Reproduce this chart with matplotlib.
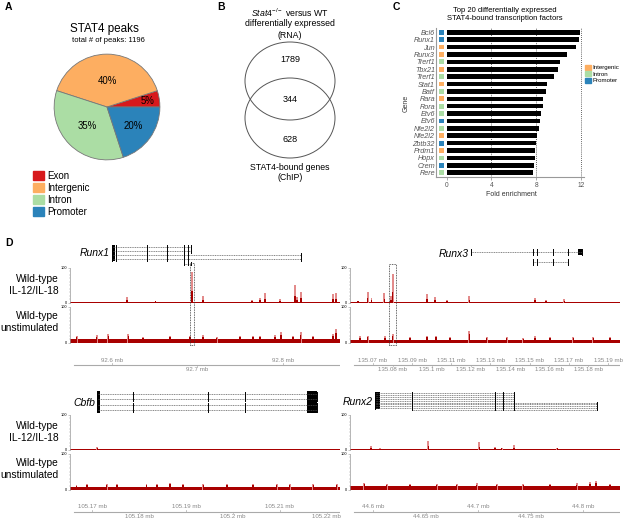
import numpy as np
import matplotlib
matplotlib.use('Agg')
import matplotlib.pyplot as plt
from matplotlib.patches import Ellipse, Rectangle, Patch
from matplotlib import transforms

plt.rcParams['font.family'] = ['Liberation Sans', 'DejaVu Sans']
plt.rcParams['mathtext.fontset'] = 'custom'
plt.rcParams['mathtext.it'] = 'Liberation Sans:italic'
plt.rcParams['mathtext.rm'] = 'Liberation Sans'

# ---- data ----
# A: STAT4 peak annotation
peak_cats = ['Exon', 'Intergenic', 'Intron', 'Promoter']
peak_pct = [5, 40, 35, 20]
region_colors = {'Exon': '#d7191c', 'Intergenic': '#fdae61',
                 'Intron': '#abdda4', 'Promoter': '#2b83ba'}

# B: venn counts
venn_rna_only = 1789
venn_both = 344
venn_chip_only = 628

# C: top 20 transcription factors
tf_genes = ['Bcl6', 'Runx1', 'Jun', 'Runx3', 'Trerf1', 'Tbx21', 'Trerf1', 'Stat1',
            'Batf', 'Rara', 'Rora', 'Etv6', 'Etv6', 'Nfe2l2', 'Nfe2l2', 'Zbtb32',
            'Prdm1', 'Hopx', 'Crem', 'Rere']
tf_fold = [11.9, 11.8, 11.6, 10.75, 10.1, 9.97, 9.55, 9.0, 8.9, 8.65, 8.6, 8.47,
           8.3, 8.23, 8.08, 7.96, 7.93, 7.9, 7.8, 7.72]
tf_region = ['Promoter', 'Promoter', 'Intergenic', 'Intergenic', 'Intron', 'Intergenic',
             'Intron', 'Intergenic', 'Intron', 'Intergenic', 'Intron', 'Intron',
             'Promoter', 'Intron', 'Intergenic', 'Promoter', 'Intergenic', 'Intron',
             'Promoter', 'Intron']

# D: genome tracks (positions in mb, heights on 0-100 scale)
runx1_tx = [(92.5996, 92.6924), (92.5996, 92.6924), (92.5996, 92.8207),
            (92.5996, 92.8207), (92.6842, 92.6924)]
runx1_exons = [92.6047, 92.6406, 92.6647, 92.6842, 92.6885]
runx1_il12 = [(92.6175, 16), (92.651, 5), (92.6936, 88), (92.7064, 18), (92.7637, 6),
              (92.773, 12), (92.779, 28), (92.7965, 10), (92.814, 50), (92.8164, 15),
              (92.821, 30), (92.8585, 25), (92.862, 28)]
runx1_unst = [(92.5587, 20), (92.5821, 22), (92.5957, 24), (92.6191, 25), (92.6363, 17),
              (92.6678, 18), (92.6912, 20), (92.7064, 22), (92.7225, 17), (92.7497, 18),
              (92.7649, 20), (92.7731, 18), (92.7906, 22), (92.7977, 30), (92.8117, 18),
              (92.8207, 30), (92.8351, 18), (92.8585, 25), (92.862, 39)]

runx3_tx = [(135.1200, 135.1767), (135.1516, 135.1697)]
runx3_exons = [135.1516, 135.1539, 135.1621, 135.1697]
runx3_il12 = [(135.0623, 5), (135.0673, 29), (135.0693, 13), (135.0758, 26),
              (135.0792, 19), (135.0801, 81), (135.0977, 23), (135.1017, 16),
              (135.1079, 6), (135.1192, 19), (135.1527, 13), (135.1584, 8), (135.1677, 11)]
runx3_unst = [(135.0634, 18), (135.0673, 20), (135.0761, 18), (135.0801, 25),
              (135.0889, 15), (135.0977, 20), (135.1022, 20), (135.1093, 15),
              (135.1192, 33), (135.1281, 15), (135.1383, 15), (135.1468, 14),
              (135.1527, 18), (135.1604, 15), (135.1723, 15), (135.1825, 17), (135.191, 15)]

cbfb_tx = [(105.1711, 105.2178)] * 4
cbfb_exons = [105.1788, 105.1946, 105.2026]
cbfb_il12 = [(105.1711, 8)]
cbfb_unst = [(105.1667, 13), (105.1689, 14), (105.1731, 16), (105.1753, 15),
             (105.1816, 14), (105.1838, 14), (105.1866, 19), (105.1894, 16),
             (105.1937, 15), (105.1987, 14), (105.2043, 15), (105.2093, 15),
             (105.2121, 14), (105.2171, 14), (105.2221, 15)]

runx2_tx = [(44.6019, 44.7343)] * 5 + [(44.6019, 44.8136)] * 4 + [(44.6369, 44.8136)]
runx2_exons = [44.6369, 44.7162, 44.7235, 44.7343]
runx2_il12 = [(44.5981, 12), (44.6067, 5), (44.6527, 26), (44.7012, 21), (44.7162, 7),
              (44.7226, 6), (44.7343, 13), (44.7755, 6)]
runx2_unst = [(44.5917, 18), (44.613, 15), (44.6352, 14), (44.6607, 15), (44.6797, 16),
              (44.6988, 17), (44.7178, 15), (44.7431, 15), (44.7686, 16), (44.794, 17),
              (44.8067, 20), (44.8124, 23), (44.8257, 16)]

W, H = 625, 522
fig = plt.figure(figsize=(6.25, 5.22), dpi=100)
dark = '#a80000'
pink = '#e38b8b'


def px_axes(x0, y0, x1, y1):
    return fig.add_axes([x0 / W, 1 - y1 / H, (x1 - x0) / W, (y1 - y0) / H])


def px_text(x, y, s, **kw):
    fig.text(x / W, 1 - y / H, s, **kw)


# panel letters
for lab, x, y in [('A', 5, 7), ('B', 217, 7), ('C', 393, 7), ('D', 5, 243)]:
    px_text(x, y, lab, fontsize=7.5, fontweight='bold', va='center')

# ---- A: pie ----
ax = px_axes(52, 52, 162, 162)
wedges, _ = ax.pie(peak_pct, colors=[region_colors[c] for c in peak_cats],
                   startangle=0, counterclock=True,
                   wedgeprops=dict(edgecolor='#777777', linewidth=0.6))
ax.set_xlim(-1.04, 1.04)
ax.set_ylim(-1.04, 1.04)
ax.set_aspect('equal')
for w, p, r in zip(wedges, peak_pct, [0.78, 0.5, 0.52, 0.62]):
    ang = np.deg2rad((w.theta1 + w.theta2) / 2)
    ax.text(r * np.cos(ang), r * np.sin(ang), f'{p}%', ha='center', va='center', fontsize=6.9)
px_text(104, 29, 'STAT4 peaks', ha='center', va='center', fontsize=8.4)
px_text(108, 41, 'total # of peaks: 1196', ha='center', va='center', fontsize=5.5)
fig.legend([Patch(color=region_colors[c]) for c in peak_cats], peak_cats,
           loc='upper left', bbox_to_anchor=(33 / W, 1 - 171 / H), frameon=False,
           fontsize=7, handlelength=1.1, handleheight=1.1, handletextpad=0.35,
           labelspacing=0.2, borderpad=0, borderaxespad=0)

# ---- B: venn ----
axb = px_axes(200, 0, 390, 230)
axb.set_xlim(200, 390)
axb.set_ylim(230, 0)
axb.axis('off')
axb.add_patch(Ellipse((290, 81), 90, 78, fill=False, edgecolor='#555555', lw=0.7))
axb.add_patch(Ellipse((290, 118), 90, 80, fill=False, edgecolor='#555555', lw=0.7))
axb.text(290, 60, str(venn_rna_only), ha='center', va='center', fontsize=6.5)
axb.text(290, 100, str(venn_both), ha='center', va='center', fontsize=6.5)
axb.text(290, 140, str(venn_chip_only), ha='center', va='center', fontsize=6.5)
axb.text(290, 13, r'$\mathit{Stat4}^{-/-}$ versus WT', ha='center', va='center', fontsize=6.3)
axb.text(290, 23, 'differentially expressed', ha='center', va='center', fontsize=6.3)
axb.text(290, 35, '(RNA)', ha='center', va='center', fontsize=6.3)
axb.text(290, 167, 'STAT4-bound genes', ha='center', va='center', fontsize=6.3)
axb.text(290, 177, '(ChIP)', ha='center', va='center', fontsize=6.3)

# ---- C: bars ----
axc = px_axes(435.7, 28, 584.3, 177.3)
yy = np.arange(len(tf_genes))
for v in [4, 8, 12]:
    axc.axvline(v, color='#333333', ls=(0, (1, 1.5)), lw=0.6, zorder=1)
axc.barh(yy, tf_fold, height=0.62, color='black', zorder=2)
axc.scatter([-0.45] * len(yy), yy, marker='s', s=12, linewidths=0,
            c=[region_colors[r] for r in tf_region], zorder=3)
axc.set_xlim(-0.98, 12.3)
axc.set_ylim(19.62, -0.58)
axc.set_yticks(yy)
axc.set_yticklabels(tf_genes, fontstyle='italic', fontsize=5.2, color='#555555')
axc.tick_params(axis='y', length=0, pad=0.5)
axc.set_xticks([0, 4, 8, 12])
axc.tick_params(axis='x', length=2, width=0.5, color='#888888', labelsize=4.8,
                labelcolor='#555555', pad=1.5)
for s in ['top', 'right']:
    axc.spines[s].set_visible(False)
for s in ['left', 'bottom']:
    axc.spines[s].set_color('#999999')
    axc.spines[s].set_linewidth(0.8)
px_text(505, 10, 'Top 20 differentially expressed', ha='center', va='center', fontsize=5.5)
px_text(505, 19, 'STAT4-bound transcription factors', ha='center', va='center', fontsize=5.5)
px_text(511, 194, 'Fold enrichment', ha='center', va='center', fontsize=5, color='#333333')
px_text(406, 103, 'Gene', ha='center', va='center', fontsize=5, rotation=90, color='#333333')
leg_c = ['Intergenic', 'Intron', 'Promoter']
fig.legend([Patch(color=region_colors[c]) for c in leg_c], leg_c,
           loc='upper left', bbox_to_anchor=(585 / W, 1 - 64.5 / H), frameon=False,
           fontsize=4.4, handlelength=0.9, handleheight=0.9, handletextpad=0.3,
           labelspacing=0.15, borderpad=0, borderaxespad=0)


# ---- D: genome tracks ----
def draw_gene(x0, x1, xlim, name, tx, exons, y0, dy, label_row,
              first_box=None, last_box=None, box_h=0.9, exon_h=0.8):
    n = len(tx)
    ax = px_axes(x0, y0 - dy / 2, x1, y0 + dy * (n - 0.5))
    ax.set_xlim(xlim)
    ax.set_ylim(n - 0.5, -0.5)
    ax.axis('off')
    for i, (s, e) in enumerate(tx):
        ax.plot([s, e], [i, i], color='#555555', lw=0.5, ls=(0, (1.5, 1)))
        for x in [s, e] + [v for v in exons if s < v < e]:
            ax.plot([x, x], [i - exon_h / 2, i + exon_h / 2], color='black', lw=0.7)
        if first_box and abs(s - first_box[0]) < 1e-6:
            ax.add_patch(Rectangle((first_box[0], i - box_h / 2), first_box[1] - first_box[0],
                                   box_h, color='black', lw=0))
        if last_box and e >= last_box[1] - 1e-6:
            ax.add_patch(Rectangle((last_box[0], i - box_h / 2), last_box[1] - last_box[0],
                                   box_h, color='black', lw=0))
    start = min(s for s, e in tx)
    ax.annotate(name, xy=(start, label_row), xytext=(-1.5, 0), textcoords='offset points',
                ha='right', va='center', fontsize=7.5, style='italic', annotation_clip=False)


def draw_track(x0, x1, y0, y1, xlim, bg, peaks, core):
    ax = px_axes(x0, y0, x1, y1)
    ax.set_xlim(xlim)
    ax.set_ylim(0, 100)
    w = (xlim[1] - xlim[0]) / (x1 - x0) * 1.4
    ax.fill_between(xlim, 0, bg, color=dark, lw=0)
    pos = [p[0] for p in peaks]
    hts = [p[1] for p in peaks]
    # light outline of each peak, darker core underneath
    ax.bar(pos, hts, width=w * 1.3, color=pink, lw=0)
    ax.bar(pos, [bg + (h - bg) * core for h in hts], width=w, color=dark, lw=0)
    for s in ['top', 'right', 'bottom']:
        ax.spines[s].set_visible(False)
    ax.spines['left'].set_color('#999999')
    ax.spines['left'].set_linewidth(0.5)
    ax.set_xticks([])
    ax.set_yticks([0, 100])
    ax.set_yticklabels(['0', '100'])
    ax.set_yticks(np.arange(10, 100, 10), minor=True)
    ax.tick_params(axis='y', which='major', length=1.5, width=0.4, labelsize=2.8, pad=0.5,
                   color='#999999')
    ax.tick_params(axis='y', which='minor', length=1, width=0.3, color='#999999')
    return ax


def draw_scale(x0, x1, yline, xlim, above, below):
    ax = px_axes(x0, yline - 10, x1, yline + 10)
    ax.set_xlim(xlim)
    ax.set_ylim(10, -10)
    ax.axis('off')
    span = xlim[1] - xlim[0]
    ax.plot([xlim[0] + span * 0.015, xlim[1]], [0, 0], color='#aaaaaa', lw=0.8)
    for v in above:
        ax.plot([v, v], [0, -1.2], color='#aaaaaa', lw=0.5)
        ax.text(v, -4.5, f'{v:g} mb', ha='center', va='center', fontsize=4.4, color='#888888')
    for v in below:
        ax.plot([v, v], [0, 1.2], color='#aaaaaa', lw=0.5)
        ax.text(v, 5, f'{v:g} mb', ha='center', va='center', fontsize=4.4, color='#888888')


def highlight(ax, x0, x1, ytop, ybot):
    tr = transforms.blended_transform_factory(ax.transData, fig.transFigure)
    fig.add_artist(Rectangle((x0, 1 - ybot / H), x1 - x0, (ybot - ytop) / H, transform=tr,
                             fill=False, edgecolor='#333333', lw=0.6, ls=(0, (1, 1))))


# top-left: Runx1
xl = (92.5509, 92.8667)
draw_gene(70, 340, xl, 'Runx1', runx1_tx, runx1_exons, 246.7, 4.2, 1.5,
          first_box=(92.5996, 92.6040), box_h=1.0)
a1 = draw_track(70, 340, 267.7, 302.5, xl, 2.5, runx1_il12, 0.35)
draw_track(70, 340, 306.7, 342.7, xl, 10, runx1_unst, 0.6)
draw_scale(70, 340, 364.5, xl, [92.6, 92.8], [92.7])
highlight(a1, 92.6912, 92.6959, 263, 345)

# top-right: Runx3
xl = (135.0583, 135.1961)
draw_gene(350, 620, xl, 'Runx3', runx3_tx, runx3_exons, 251.7, 10, 0.2,
          last_box=(135.1747, 135.1767), box_h=0.6, exon_h=0.6)
a3 = draw_track(350, 620, 267.7, 302.5, xl, 2.5, runx3_il12, 0.35)
draw_track(350, 620, 306.7, 342.7, xl, 8, runx3_unst, 0.6)
draw_scale(350, 620, 364.5, xl, [135.07, 135.09, 135.11, 135.13, 135.15, 135.17, 135.19],
           [135.08, 135.1, 135.12, 135.14, 135.16, 135.18])
highlight(a3, 135.0782, 135.0817, 264, 345)

# bottom-left: Cbfb
xl = (105.1653, 105.2228)
draw_gene(70, 340, xl, 'Cbfb', cbfb_tx, cbfb_exons, 394, 5.33, 1.6,
          first_box=(105.1711, 105.1716), last_box=(105.2157, 105.2178), box_h=1.0)
draw_track(70, 340, 414.5, 449.8, xl, 2.5, cbfb_il12, 0.35)
draw_track(70, 340, 453.5, 489.5, xl, 8, cbfb_unst, 0.6)
draw_scale(70, 340, 511.5, xl, [105.17, 105.19, 105.21], [105.18, 105.2, 105.22])

# bottom-right: Runx2
xl = (44.5781, 44.8352)
draw_gene(350, 620, xl, 'Runx2', runx2_tx, runx2_exons, 393, 1.9, 4.5,
          first_box=(44.6019, 44.6067), box_h=1.0, exon_h=1.0)
draw_track(350, 620, 414.5, 449.8, xl, 2.5, runx2_il12, 0.35)
draw_track(350, 620, 453.5, 489.5, xl, 9, runx2_unst, 0.6)
draw_scale(350, 620, 511.5, xl, [44.6, 44.7, 44.8], [44.65, 44.75])

# track labels
for y, s in [(285, 'Wild-type\nIL-12/IL-18'), (322, 'Wild-type\nunstimulated'),
             (432, 'Wild-type\nIL-12/IL-18'), (469, 'Wild-type\nunstimulated')]:
    px_text(59, y, s, ha='right', va='center', fontsize=7.4, linespacing=1.2)

plt.savefig('out.png', dpi=100)
